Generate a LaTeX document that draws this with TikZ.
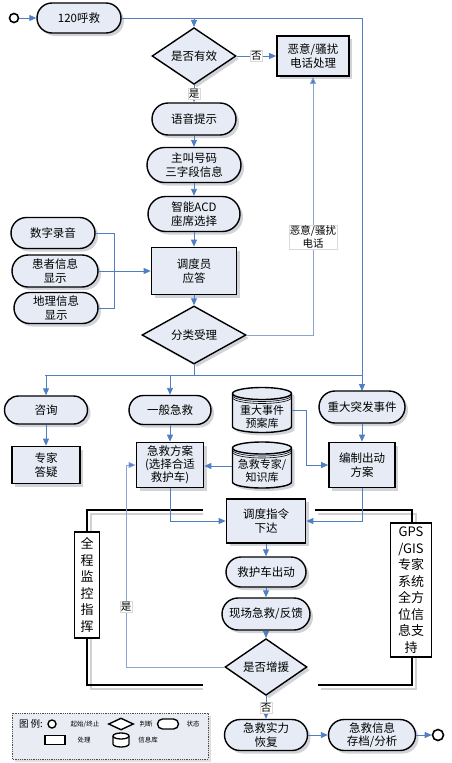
\documentclass[tikz,border=0pt]{standalone}
\usepackage{fontspec}
\setmainfont{Noto Sans CJK SC}
\usetikzlibrary{shapes.geometric,shapes.misc,arrows.meta,shadows}
\definecolor{nfill}{HTML}{E6EBF5}
\definecolor{lb}{HTML}{4F7EC2}
\definecolor{lbl}{HTML}{8AA5D2}
\definecolor{shg}{HTML}{D2D3D8}
\definecolor{legfill}{HTML}{E9ECF3}
\newcommand\dbdraw[6]{%
\begin{scope}[shift={(#1,#2)}]
\pgfmathsetmacro\dbk{#4-#5}
\path[fill=shg, shift={(3,3)}] (-#3,-\dbk) -- (-#3,\dbk) arc[start angle=180,end angle=360,x radius=#3pt,y radius=#5pt] -- (#3,-\dbk) arc[start angle=0,end angle=180,x radius=#3pt,y radius=#5pt] -- cycle;
\path[draw, fill=nfill, line width=#6] (-#3,-\dbk) -- (-#3,\dbk) arc[start angle=180,end angle=360,x radius=#3pt,y radius=#5pt] -- (#3,-\dbk) arc[start angle=0,end angle=180,x radius=#3pt,y radius=#5pt] -- cycle;
\draw[line width=#6] (-#3,-\dbk) arc[start angle=180,end angle=360,x radius=#3pt,y radius=#5pt];
\draw[line width=0.6pt] (-#3,{-\dbk+2}) arc[start angle=180,end angle=360,x radius=#3pt,y radius=#5pt];
\draw[line width=0.6pt] (-#3,{-\dbk+4}) arc[start angle=180,end angle=360,x radius=#3pt,y radius=#5pt];
\end{scope}}
\begin{document}
\begin{tikzpicture}[x=1pt,y=-1pt,
  base/.style={draw, line width=1.4pt, fill=nfill, align=center, inner sep=1pt,
    font=\fontsize{11.5}{13.5}\selectfont,
    drop shadow={shadow xshift=3pt, shadow yshift=-3pt, fill=shg, opacity=1}},
  stad/.style={base, rounded rectangle},
  proc/.style={base, rectangle, line width=1.7pt},
  dec/.style={base, diamond, inner sep=0pt},
  ar/.style={draw=lb, line width=0.9pt, -{Triangle[length=7pt,width=6pt]}},
  lin/.style={draw=lb, line width=0.9pt},
  lar/.style={draw=lbl, line width=0.8pt, -{Triangle[length=7pt,width=6pt,fill=lb]}},
  llin/.style={draw=lbl, line width=0.8pt},
  lab/.style={fill=white, draw=black!15, line width=0.4pt, inner sep=1pt, align=center,
    font=\fontsize{10.5}{12.5}\selectfont},
  bk/.style={draw=black, line width=1.5pt},
  bksh/.style={draw=black!18, line width=1.5pt},
  side/.style={draw, line width=1.6pt, fill=white, align=center, inner sep=0pt,
    font=\fontsize{13}{16.5}\selectfont},
  cyltext/.style={minimum width=59pt, inner sep=0pt, align=center, font=\fontsize{11}{13}\selectfont},
  legt/.style={font=\fontsize{6.5}{8}\selectfont, inner sep=0pt}
]
\useasboundingbox (0,0) rectangle (452,763);

% black brackets (with grey shadow)
\draw[bksh] (203,514) -- (91,514) -- (91,689) -- (203,689);
\draw[bksh] (318,514) -- (416,514) -- (416,689) -- (321,689);
\draw[bk] (203,510) -- (87,510) -- (87,685) -- (203,685);
\draw[bk] (315,510) -- (412,510) -- (412,685) -- (318,685);
\node[side, minimum width=25pt, minimum height=106pt] (mon) at (87,585) {全\\程\\监\\控\\指\\挥};
\node[side, minimum width=41pt, minimum height=134pt] (gps) at (411,590) {GPS\\/GIS\\专家\\系统\\全方\\位信\\息支\\持};

% top part
\node[circle, draw, line width=1.6pt, fill=white, minimum size=9pt, inner sep=0pt] (start) at (14,18) {};
\node[stad, minimum width=86pt, minimum height=30pt] (call) at (79,18) {120呼救};
\node[dec, minimum width=84pt, minimum height=46pt] (valid) at (194,56) {是否有效};
\node[proc, minimum width=72pt, minimum height=40pt] (malice) at (313,56) {恶意/骚扰\\电话处理};
\node[stad, minimum width=86pt, minimum height=32pt] (voice) at (194,119) {语音提示};
\node[stad, minimum width=96pt, minimum height=35pt] (caller) at (194,165) {主叫号码\\三字段信息};
\node[stad, minimum width=94pt, minimum height=35pt] (acd) at (194,214) {智能ACD\\座席选择};
\node[proc, minimum width=85pt, minimum height=47pt] (disp) at (194,271) {调度员\\应答};
\node[stad, minimum width=86pt, minimum height=31pt] (rec) at (53,233) {数字录音};
\node[stad, minimum width=88pt, minimum height=32pt] (pat) at (55,271) {患者信息\\显示};
\node[stad, minimum width=86pt, minimum height=31pt] (geo) at (56,308) {地理信息\\显示};
\node[dec, minimum width=104pt, minimum height=58pt] (class) at (194,335) {分类受理};

\coordinate (j1) at (194,18);
\coordinate (h) at (194,375);
\draw[ar] (start.east) -- (call.west);
\draw[ar] (call.east) -| (362,391);
\draw[ar] (j1) -- (valid.north);
\draw[ar] (valid.east) -- node[lab]{否} (malice.west);
\draw[ar] (valid.south) -- node[lab]{是} (voice.north);
\draw[ar] (voice.south) -- (caller.north);
\draw[ar] (caller.south) -- (acd.north);
\draw[ar] (acd.south) -- (disp.north);
\draw[ar] (disp.south) -- (class.north);
\draw[lin] (rec.east) -- ++(19,0) |- (geo.east);
\draw[ar] (pat.east) -- (disp.west);
\draw[lar] (class.east) -| node[lab, pos=0.69]{恶意/骚扰\\电话} (malice.south);
\draw[lin] (class.south) -- (h);
\draw[lin] (45,375) -- (362,375);

% middle part
\node[stad, minimum width=85pt, minimum height=28pt] (consult) at (46,410) {咨询};
\node[proc, minimum width=68pt, minimum height=37pt] (expert) at (46,465) {专家\\答疑};
\node[stad, minimum width=84pt, minimum height=29pt] (general) at (170,410) {一般急救};
\node[proc, minimum width=67pt, minimum height=45pt, font=\fontsize{11.5}{13}\selectfont] (plan) at (170,465) {急救方案\\(选择合适\\救护车)};
\dbdraw{262}{410}{29.5}{22.5}{6}{1.4pt}
\node[cyltext] (cyl1) at (262,417) {重大事件\\预案库};
\dbdraw{262}{465}{29.5}{23}{6}{1.4pt}
\node[cyltext] (cyl2) at (262,471) {急救专家/\\知识库};
\node[stad, minimum width=88pt, minimum height=32pt] (major) at (362,407) {重大突发事件};
\node[proc, minimum width=66pt, minimum height=45pt] (compile) at (362,465) {编制出动\\方案};

\draw[ar] (h -| consult.north) -- (consult.north);
\draw[ar] (h -| general.north) -- (general.north);
\draw[ar] (consult.south) -- (expert.north);
\draw[ar] (general.south) -- (plan.north);
\draw[ar] (major.south) -- (compile.north);
\draw[ar] (cyl1.east |- 0,410) -- (306,410) |- (compile.west);
\draw[ar] (cyl2.west |- 0,466) -- (plan.east |- 0,466);

% lower part
\node[proc, minimum width=79pt, minimum height=44pt] (order) at (266,521) {调度指令\\下达};
\node[stad, minimum width=82pt, minimum height=30pt] (amb) at (266,572) {救护车出动};
\node[stad, minimum width=90pt, minimum height=32pt] (site) at (266,614) {现场急救/反馈};
\node[dec, minimum width=82pt, minimum height=46pt] (more) at (266,667) {是否增援};
\node[stad, minimum width=85pt, minimum height=31pt] (restore) at (266,735) {急救实力\\恢复};
\node[stad, minimum width=89pt, minimum height=31pt] (archive) at (372,735) {急救信息\\存档/分析};
\node[circle, draw, line width=1.6pt, fill=white, minimum size=11pt, inner sep=0pt] (end) at (438,735) {};

\draw[ar] (plan.south) |- (order.west);
\draw[ar] (compile.south) |- (order.east);
\draw[ar] (order.south) -- (amb.north);
\draw[ar] (amb.south) -- (site.north);
\draw[ar] (site.south) -- (more.north);
\draw[lar] (more.west) -- (126,667) |- node[lab, pos=0.15]{是} (plan.west);
\draw[ar] (more.south) -- node[lab]{否} (restore.north);
\draw[ar] (restore.east) -- (archive.west);
\draw[ar] (archive.east) -- (end.west);

% legend
\draw[fill=black!12, draw=none] (15,716) rectangle (211,762);
\draw[fill=legfill, draw=black!70, densely dotted, line width=0.8pt] (12,713) rectangle (208,759);
\node[font=\fontsize{9.5}{11}\selectfont, inner sep=0pt] (legt) at (31,724) {图 例:};
\node[circle, draw, line width=1.4pt, fill=white, minimum size=8pt, inner sep=0pt] (lc) at (52,724) {};
\node[legt] (lt1) at (85,724) {起始/终止};
\node[diamond, draw, line width=1.4pt, fill=white, minimum width=25pt, minimum height=12pt, inner sep=0pt] (ld) at (121,724) {};
\node[legt] (lt2) at (146,724) {判断};
\node[rounded rectangle, draw, line width=1.4pt, fill=white, minimum width=21pt, minimum height=10pt, inner sep=0pt] (ls) at (168,724) {};
\node[legt] (lt3) at (193,724) {状态};
\node[rectangle, draw, line width=1.4pt, fill=white, minimum width=20pt, minimum height=9pt, inner sep=0pt] (lr) at (55,740) {};
\node[legt] (lt4) at (84,740) {处理};
\begin{scope}
\path[fill=white, draw, line width=1.3pt] (113,736) -- (113,744) arc[start angle=180,end angle=360,x radius=8pt,y radius=3pt] -- (129,736) arc[start angle=0,end angle=180,x radius=8pt,y radius=3pt] -- cycle;
\draw[line width=1.3pt] (113,736) arc[start angle=180,end angle=360,x radius=8pt,y radius=3pt];
\end{scope}
\node[minimum width=16pt, minimum height=14pt, inner sep=0pt] (lcyl) at (121,740) {};
\node[legt] (lt5) at (148,740) {信息库};
\end{tikzpicture}
\end{document}
